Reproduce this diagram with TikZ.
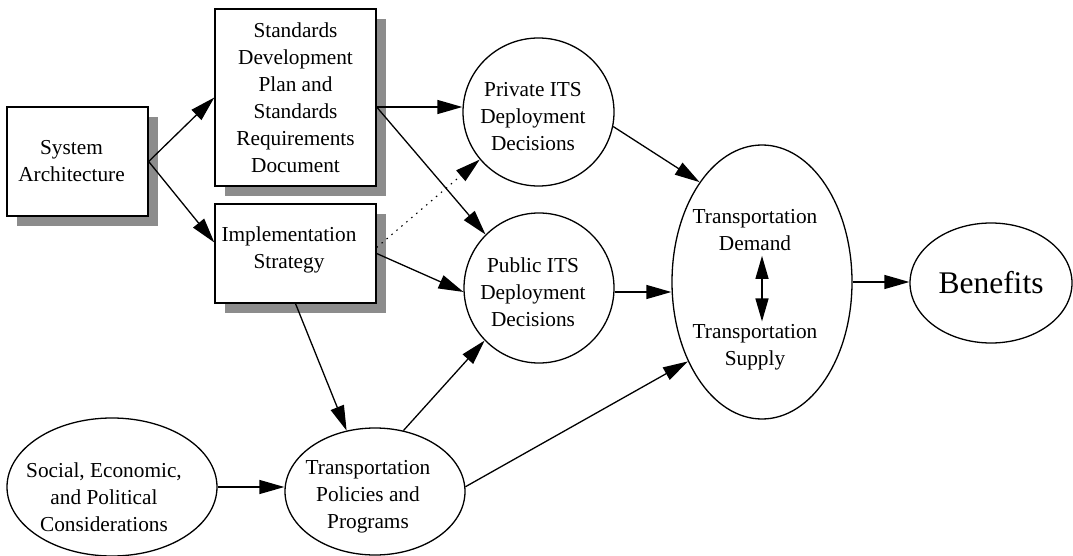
\documentclass[tikz,border=0pt]{standalone}
\usepackage{fontspec}
\setmainfont{Liberation Serif}
\usetikzlibrary{shapes.geometric,arrows.meta,shadows}
\definecolor{shadowgray}{RGB}{140,140,140}
\begin{document}
\begin{tikzpicture}[x=1pt,y=-1pt,
  font=\fontsize{21.3}{27}\selectfont,
  box/.style={draw,line width=1.3pt,fill=white,rectangle,inner sep=0pt,
    general shadow={fill=shadowgray,shadow xshift=10pt,shadow yshift=-10pt}},
  oval/.style={draw,line width=1.3pt,ellipse,inner sep=0pt},
  txt/.style={align=center,inner sep=0pt},
  conn/.style={line width=1.3pt,-{Triangle[length=25pt,width=14pt]}},
  dotconn/.style={line width=1.1pt,dash pattern=on 1.5pt off 5pt,-{Triangle[length=25pt,width=14pt]}},
  dblconn/.style={line width=1.3pt,{Triangle[length=23pt,width=13pt]}-{Triangle[length=23pt,width=13pt]}}]
\useasboundingbox (0,0) rectangle (1073,556);

% boxes
\node[box,minimum width=141pt,minimum height=109pt,
  label={[txt,xshift=-6pt]center:System\\Architecture}] (sys) at (77.5,161.5) {};
\node[box,minimum width=161pt,minimum height=177pt,
  label={[txt]center:Standards\\Development\\Plan and\\Standards\\Requirements\\Document}] (std) at (295.5,97.5) {};
\node[box,minimum width=161pt,minimum height=99pt,
  label={[txt,xshift=-6.5pt,yshift=4pt]center:Implementation\\Strategy}] (impl) at (295.5,253.5) {};

% ovals
\node[oval,minimum width=151pt,minimum height=148pt,
  label={[txt,xshift=-5.5pt,yshift=-5pt]center:Private ITS\\Deployment\\Decisions}] (priv) at (538.5,112) {};
\node[oval,minimum width=150pt,minimum height=150pt,
  label={[txt,xshift=-6pt,yshift=-4pt]center:Public ITS\\Deployment\\Decisions}] (pub) at (539,288) {};
\node[oval,minimum width=180pt,minimum height=274pt] (big) at (762,282) {};
\node[txt] (dem) at (755,230) {Transportation\\Demand};
\node[txt] (sup) at (755,347.5) {Transportation\\Supply};
\node[oval,minimum width=162pt,minimum height=120pt,
  label={[txt,font=\fontsize{31.5}{36}\selectfont]center:Benefits}] (ben) at (991,283) {};
\node[oval,minimum width=180pt,minimum height=127pt,
  label={[txt,xshift=-7pt,yshift=-5.5pt]center:Transportation\\Policies and\\Programs}] (tp) at (375,491.5) {};
\node[oval,minimum width=210pt,minimum height=138pt,
  label={[txt,xshift=-8pt,yshift=-10pt]center:Social, Economic,\\and Political\\Considerations}] (soc) at (112,487) {};

% connectors
\draw[conn] (sys.east) -- (std.west);
\draw[conn] (sys.east) -- ([yshift=11pt]impl.west);
\draw[conn] ([yshift=-9.5pt]std.east) -- ([yshift=5pt]priv.west);
\draw[conn] ([yshift=-9.5pt]std.east) -- (pub.135);
\draw[conn] (impl.east) -- (pub.183);
\draw[dotconn] ([yshift=6pt]impl.east) -- (priv.219);
\draw[conn] (impl.south) -- (tp.115);
\draw[conn] (tp.65) -- (pub.224);
\draw[conn] (tp.3) -- (big.227);
\draw[conn] (soc.east) -- (soc.east -| tp.west);
\draw[conn] (priv.-11) -- (big.122);
\draw[conn] ([yshift=-4pt]pub.east) -- ([yshift=-10pt]big.west);
\draw[conn] (big.east) -- (big.east -| ben.west);
\draw[dblconn] ([xshift=7pt,yshift=-5pt]dem.south) -- ([xshift=7pt,yshift=3pt]sup.north);
\end{tikzpicture}
\end{document}
